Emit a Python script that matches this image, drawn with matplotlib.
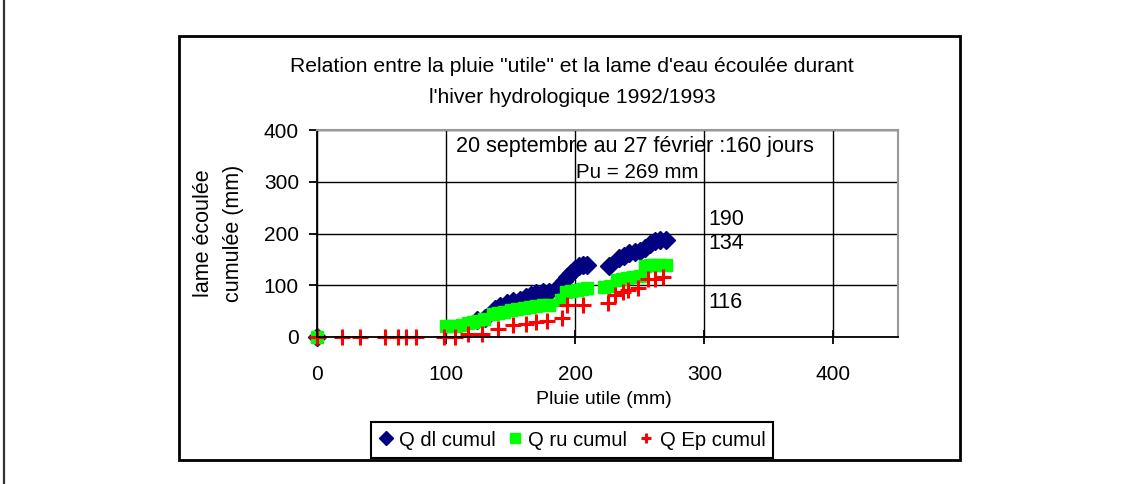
import matplotlib
matplotlib.use("Agg")
import matplotlib.pyplot as plt
from matplotlib.patches import Rectangle
from matplotlib.lines import Line2D

plt.rcParams['font.family'] = ['Liberation Sans', 'DejaVu Sans']

# ---- data ----
ep_x = [0, 19, 33, 53, 63, 69, 77, 98, 107, 117, 128, 140, 152, 162, 170, 178,
        190, 194, 206, 225, 231, 237, 241, 249, 256, 262, 268]
ep_y = [0, 0, 0, 0, 0, 0, 0, 0, 0, 6, 6, 15, 23, 25, 29, 31,
        36, 61, 61, 65, 81, 86, 90, 94, 113, 113, 116]

ru_x = [0, 100, 104, 108, 112, 117, 121, 125, 129, 136, 140, 145, 150, 155, 160,
        165, 170, 175, 180, 189, 193, 197, 201, 205, 209, 222, 227, 232, 236, 240,
        245, 250, 254, 258, 262, 266, 270]
ru_y = [0, 21, 22, 22, 24, 27, 29, 31, 34, 44, 47, 49, 52, 54, 56,
        58, 60, 61, 62, 72, 86, 88, 90, 92, 94, 96, 98, 110, 112, 114,
        116, 118, 138, 139, 139, 140, 140]

dl_x = [0, 124, 130, 138, 142, 147, 152, 157, 162, 166, 170, 175, 180, 188, 191,
        194, 197, 200, 203, 206, 209, 226, 234, 238, 242, 246, 250, 254, 258, 262,
        266, 270]
dl_y = [0, 33, 36, 55, 60, 66, 70, 72, 78, 82, 85, 86, 87, 100, 108,
        116, 124, 132, 138, 140, 140, 137, 152, 157, 162, 165, 167, 172, 180, 186,
        188, 188]

series_names = ["Q dl cumul", "Q ru cumul", "Q Ep cumul"]
x_ticks = [0, 100, 200, 300, 400]
y_ticks = [0, 100, 200, 300, 400]
end_labels = ["190", "134", "116"]
end_label_pos = [(303.5, 227), (303.5, 181), (303.5, 67)]

title_text = "Relation entre la pluie \"utile\" et la lame d'eau écoulée durant\nl'hiver hydrologique 1992/1993"
period_text = "20 septembre au 27 février :160 jours"
pu_text = "Pu = 269 mm"

W, H = 1129, 484
fig = plt.figure(figsize=(W / 100, H / 100), dpi=100)

def fx(px):
    return px / W

def fy(py):
    return 1 - py / H

# outer page line and chart frame
fig.add_artist(Line2D([fx(4), fx(4)], [0, 1], color='#333333', lw=1.6))
fig.add_artist(Rectangle((fx(179), fy(460)), fx(960) - fx(179), fy(36) - fy(460),
                         fill=False, edgecolor='black', lw=2.0,
                         transform=fig.transFigure))

ax = fig.add_axes([fx(317), fy(337), fx(898) - fx(317), fy(130) - fy(337)])
ax.set_xlim(0, 450)
ax.set_ylim(0, 400)
ax.set_xticks(x_ticks)
ax.set_yticks(y_ticks)
ax.grid(True, color='black', lw=1.0)
ax.set_axisbelow(True)

for s in ['top', 'right']:
    ax.spines[s].set_color('#999999')
    ax.spines[s].set_linewidth(1.5)
for s in ['left', 'bottom']:
    ax.spines[s].set_color('black')
    ax.spines[s].set_linewidth(1.3)

ax.tick_params(axis='x', direction='inout', length=10, width=1.3, pad=15, labelsize=15)
ax.tick_params(axis='y', direction='out', length=6, width=1.3, pad=7, labelsize=15)

h1, = ax.plot(dl_x, dl_y, linestyle='none', marker='D', ms=9, color='#000080',
              mec='#000080', label=series_names[0], clip_on=False)
h2, = ax.plot(ru_x, ru_y, linestyle='none', marker='s', ms=8.5, color='#00FF00',
              mec='#00FF00', label=series_names[1], clip_on=False)
h3, = ax.plot(ep_x, ep_y, linestyle='none', marker='+', ms=11.5, mew=2.2,
              color='#FF0000', label=series_names[2], clip_on=False)

ax.set_xlabel("Pluie utile (mm)", fontsize=14, labelpad=5)
ax.xaxis.set_label_coords(0.493, -0.262)
ax.set_ylabel("lame écoulée\ncumulée (mm)", fontsize=15.5, labelpad=14, linespacing=1.6)

ax.text(246.5, 369, period_text, ha='center', va='center', fontsize=15.5)
ax.text(248, 317, pu_text, ha='center', va='center', fontsize=14.8)
for lab, (lx, ly) in zip(end_labels, end_label_pos):
    ax.text(lx, ly, lab, ha='left', va='center', fontsize=15.5)

fig.text(fx(572), fy(82), title_text, ha='center', va='center', fontsize=15.2,
         linespacing=1.75)

leg = fig.legend(handles=[h1, h2, h3], loc='center',
                 bbox_to_anchor=(fx(572), fy(440)), ncol=3, fontsize=14.6,
                 frameon=True, fancybox=False, edgecolor='black', framealpha=1,
                 handlelength=0.7, handletextpad=0.3, columnspacing=0.6,
                 borderpad=0.4, borderaxespad=0)
leg.get_frame().set_linewidth(1.5)
for hnd in leg.legend_handles:
    hnd.set_markersize(7)

fig.savefig("out.png", dpi=100)
